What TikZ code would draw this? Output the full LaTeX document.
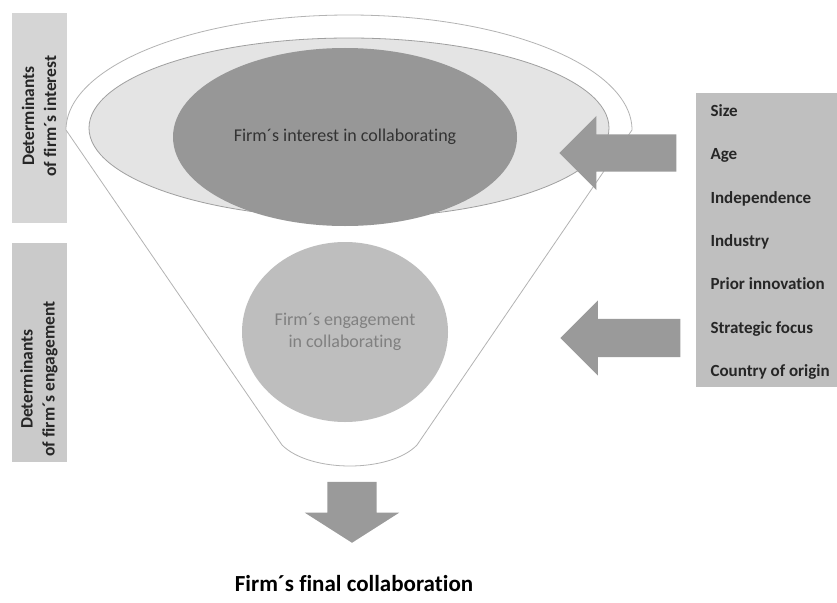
\documentclass[tikz,border=0pt]{standalone}
\usepackage{fontspec}
\setmainfont{Carlito}[Ligatures=CommonOff]
\usetikzlibrary{shapes.geometric,shapes.arrows}
\usepackage{xcolor}
\definecolor{sidegray}{HTML}{D5D5D5}
\definecolor{sidegraydark}{HTML}{CACACA}
\definecolor{listgray}{HTML}{BFBFBF}
\definecolor{arrowgray}{HTML}{9A9A9A}
\definecolor{interestgray}{HTML}{979797}
\definecolor{zonegray}{HTML}{E4E4E4}
\definecolor{engagegray}{HTML}{BEBEBE}
\definecolor{linegray}{HTML}{B3B3B3}

\begin{document}
\begin{tikzpicture}[x=1pt,y=-1pt]
	\tikzset{sidetext/.style = {rotate=90, align=center, text=black!85,
			font=\fontsize{17.5}{22}\selectfont\bfseries}}
	\tikzset{ell/.style = {shape=ellipse, inner sep=0pt}}
	\tikzset{factor/.style = {anchor=base west, text=black!85,
			font=\fontsize{17}{20}\selectfont\bfseries}}
	\tikzset{blockarrow/.style = {single arrow, fill=arrowgray, inner sep=0pt, anchor=tip}}
	\useasboundingbox (0,0) rectangle (837,602);
	% side boxes
	\fill[sidegray] (12,13) rectangle (67,223);
	\fill[sidegraydark] (12,243) rectangle (67,462);
	\node[sidetext] (intdet) at (39,116) {Determinants\\of firm´s interest};
	\node[sidetext] (engdet) at (39,379) {Determinants\\of firm´s engagement};
	
	% funnel
	\draw[linegray, line width=0.8pt, fill=white] (632,130)
		arc[start angle=0, end angle=-180, x radius=283, y radius=115]
		-- (282,445) .. controls (310,473) and (390,473) .. (417,445) -- cycle;
	
	% ellipses
	\node[ell, fill=zonegray, draw=gray!75, line width=0.8pt,
		minimum width=520, minimum height=180] (zone) at (349,128) {};
	\node[ell, fill=interestgray, minimum width=344, minimum height=178,
		text=black!80, font=\fontsize{18}{22}\selectfont] (interest) at (345,137) {Firm´s interest in collaborating};
	\node[ell, fill=engagegray, minimum width=206, minimum height=180, align=center,
		text=black!50, font=\fontsize{18}{22}\selectfont] (engage) at (345,332) {Firm´s engagement\\in collaborating};
	
	% factors
	\node[fill=listgray, minimum width=141, minimum height=294, inner sep=0pt] (factors) at (766.5,240) {};
	\node[factor] (size) at (707,116) {Size};
	\node[factor] (age) at (707,159) {Age};
	\node[factor] (indep) at (707,203) {Independence};
	\node[factor] (industry) at (707,246) {Industry};
	\node[factor] (prior) at (707,289) {Prior innovation};
	\node[factor] (focus) at (707,333) {Strategic focus};
	\node[factor] (origin) at (707,376) {Country of origin};
	
	% arrows
	\node[blockarrow, shape border rotate=180, minimum height=117, inner ysep=18.5,
		single arrow head extend=18.5] (arrint) at (559,153) {};
	\node[blockarrow, shape border rotate=180, minimum height=120, inner ysep=19,
		single arrow head extend=18.5] (arreng) at (560,338) {};
	\node[blockarrow, shape border rotate=270, minimum height=61, inner xsep=24.5,
		single arrow head extend=22.5, single arrow tip angle=115] (arrfin) at (352,543) {};
	
	\node[anchor=base, font=\fontsize{23}{27}\selectfont\bfseries] (final) at (354,591) {Firm´s final collaboration};
\end{tikzpicture}
\end{document}
